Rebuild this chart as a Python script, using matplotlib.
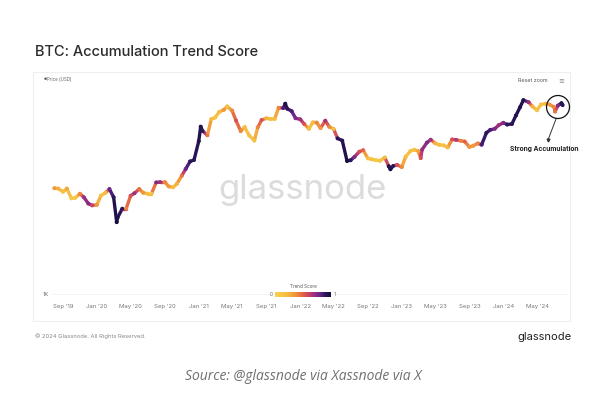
import numpy as np
import pandas as pd
import matplotlib
matplotlib.use("Agg")
import matplotlib.pyplot as plt
import matplotlib.dates as mdates
from matplotlib.collections import LineCollection
from matplotlib.colors import LinearSegmentedColormap
from matplotlib.patches import Ellipse, Rectangle

plt.rcParams['font.family'] = ['Inter', 'DejaVu Sans']

# BTC price (USD) and accumulation trend score
dates = [
    '2019-08-01', '2019-08-15', '2019-09-01', '2019-09-15', '2019-10-01', '2019-10-15',
    '2019-11-01', '2019-11-15', '2019-12-01', '2019-12-15', '2020-01-01', '2020-01-15',
    '2020-02-01', '2020-02-15', '2020-03-01', '2020-03-12', '2020-03-15', '2020-04-01',
    '2020-04-15', '2020-05-01', '2020-05-15', '2020-06-01', '2020-06-15', '2020-07-01',
    '2020-07-15', '2020-08-01', '2020-08-15', '2020-09-01', '2020-09-15', '2020-10-01',
    '2020-10-15', '2020-11-01', '2020-11-15', '2020-12-01', '2020-12-15', '2021-01-01',
    '2021-01-08', '2021-01-15', '2021-02-01', '2021-02-15', '2021-03-01', '2021-03-15',
    '2021-04-01', '2021-04-13', '2021-05-01', '2021-05-15', '2021-06-01', '2021-06-15',
    '2021-07-01', '2021-07-20', '2021-08-01', '2021-08-15', '2021-09-01', '2021-09-15',
    '2021-10-01', '2021-10-15', '2021-11-01', '2021-11-08', '2021-11-15', '2021-12-01',
    '2021-12-15', '2022-01-01', '2022-01-15', '2022-02-01', '2022-02-15', '2022-03-01',
    '2022-03-15', '2022-04-01', '2022-04-15', '2022-05-01', '2022-05-15', '2022-06-01',
    '2022-06-18', '2022-07-01', '2022-07-15', '2022-08-01', '2022-08-15', '2022-09-01',
    '2022-09-15', '2022-10-01', '2022-10-15', '2022-11-01', '2022-11-15', '2022-11-21',
    '2022-12-01', '2022-12-15', '2023-01-01', '2023-01-15', '2023-02-01', '2023-02-15',
    '2023-03-01', '2023-03-10', '2023-03-15', '2023-04-01', '2023-04-15', '2023-05-01',
    '2023-05-15', '2023-06-01', '2023-06-15', '2023-07-01', '2023-07-15', '2023-08-01',
    '2023-08-15', '2023-09-01', '2023-09-15', '2023-10-01', '2023-10-15', '2023-11-01',
    '2023-11-15', '2023-12-01', '2023-12-15', '2024-01-01', '2024-01-15', '2024-02-01',
    '2024-02-15', '2024-03-01', '2024-03-13', '2024-04-01', '2024-04-15', '2024-05-01',
    '2024-05-15', '2024-06-01', '2024-06-15', '2024-07-01', '2024-07-05', '2024-07-15',
    '2024-07-28', '2024-08-01',
]
price = [
    10400, 10300, 9600, 10300, 8300, 8400,
    9200, 8500, 7400, 7100, 7200, 8800,
    9400, 10200, 8500, 4900, 5400, 6600,
    6600, 8800, 9300, 10200, 9400, 9200,
    9200, 11800, 11900, 11900, 10800, 10600,
    11500, 13700, 15900, 18800, 19400, 29400,
    40600, 36800, 33500, 47900, 49600, 56000,
    58900, 63500, 57800, 46400, 36700, 40200,
    33500, 29800, 39900, 47000, 48800, 48100,
    48200, 61500, 61300, 67500, 60400, 57200,
    48900, 47700, 43100, 38700, 44600, 44400,
    39300, 46300, 40500, 38500, 31300, 29800,
    19000, 19300, 20800, 23300, 24100, 20100,
    19700, 19300, 19100, 20500, 16900, 15800,
    17000, 17400, 16600, 20900, 23700, 24300,
    23600, 20200, 24400, 28500, 30400, 28100,
    27200, 26800, 25600, 30600, 30300, 29700,
    29200, 25900, 26600, 28000, 27200, 35400,
    37800, 38700, 41900, 44200, 42500, 43100,
    51800, 62400, 73000, 69700, 63400, 58300,
    66200, 67500, 66200, 62700, 56700, 64700,
    68200, 65400,
]
score = [
    0.35, 0.25, 0.15, 0.30, 0.10, 0.10,
    0.40, 0.70, 0.75, 0.60, 0.35, 0.15,
    0.20, 0.80, 0.90, 1.00, 0.95, 0.90,
    0.40, 0.55, 0.70, 0.45, 0.35, 0.20,
    0.15, 0.75, 0.70, 0.40, 0.35, 0.20,
    0.25, 0.45, 0.80, 0.90, 0.90, 0.95,
    0.95, 0.90, 0.45, 0.20, 0.15, 0.20,
    0.35, 0.20, 0.40, 0.55, 0.40, 0.20,
    0.15, 0.15, 0.40, 0.55, 0.25, 0.20,
    0.20, 0.40, 0.85, 0.95, 0.90, 0.85,
    0.75, 0.70, 0.55, 0.20, 0.20, 0.40,
    0.35, 0.70, 0.40, 0.20, 0.90, 0.90,
    1.00, 0.90, 0.75, 0.55, 0.50, 0.15,
    0.15, 0.10, 0.15, 0.20, 0.95, 0.95,
    0.90, 0.55, 0.40, 0.20, 0.15, 0.15,
    0.30, 0.55, 0.70, 0.75, 0.70, 0.25,
    0.20, 0.15, 0.20, 0.55, 0.65, 0.40,
    0.50, 0.35, 0.35, 0.40, 0.85, 0.90,
    0.85, 0.75, 0.70, 0.75, 0.90, 0.90,
    0.95, 0.95, 0.95, 0.70, 0.25, 0.15,
    0.15, 0.20, 0.35, 0.40, 0.45, 0.75,
    0.95, 0.90,
]
tick_dates = ['2019-09-01', '2020-01-01', '2020-05-01', '2020-09-01', '2021-01-01',
              '2021-05-01', '2021-09-01', '2022-01-01', '2022-05-01', '2022-09-01',
              '2023-01-01', '2023-05-01', '2023-09-01', '2024-01-01', '2024-05-01']
tick_labels = ["Sep '19", "Jan '20", "May '20", "Sep '20", "Jan '21", "May '21",
               "Sep '21", "Jan '22", "May '22", "Sep '22", "Jan '23", "May '23",
               "Sep '23", "Jan '24", "May '24"]

W, H = 596, 398


def fx(px):
    return px / W


def fy(py):
    return 1 - py / H


cmap = LinearSegmentedColormap.from_list('trend', [
    (0.00, '#f9d24c'), (0.22, '#f6bb3f'), (0.38, '#f08f3a'), (0.52, '#e05a4b'),
    (0.66, '#b13578'), (0.80, '#6a268c'), (0.90, '#2c165c'), (1.00, '#170e3c')])

fig = plt.figure(figsize=(W / 100, H / 100), dpi=100)
fig.patch.set_facecolor('white')

# panel frame
fig.patches.append(Rectangle((fx(33), fy(321)), fx(570) - fx(33), fy(72) - fy(321),
                             transform=fig.transFigure, facecolor='white',
                             edgecolor='#efefef', linewidth=0.8, zorder=-1))

fig.text(fx(35), fy(52), 'BTC: Accumulation Trend Score', fontsize=10.5,
         color='#2b2b2b', fontweight='medium', va='center', ha='left')

# watermark
fig.text(fx(302), fy(190), 'glassnode', fontsize=25, color='#dcdcdc',
         ha='center', va='center', zorder=1)

ax = fig.add_axes([fx(52), fy(296), fx(568) - fx(52), fy(85) - fy(296)])
ax.patch.set_alpha(0)
ax.set_zorder(2)

d = pd.to_datetime(dates)
x = mdates.date2num(d)
y = np.array(price, dtype=float)
s = np.array(score)

ax.set_yscale('log')
ax.set_ylim(956, 102000)

t0 = mdates.date2num(pd.Timestamp('2019-09-01'))
t1 = mdates.date2num(pd.Timestamp('2024-05-01'))
px_per_day = (537 - 63) / (t1 - t0)
ax.set_xlim(t0 - (63 - 52) / px_per_day, t0 + (568 - 63) / px_per_day)

pts = np.column_stack([x, y])
segs = np.stack([pts[:-1], pts[1:]], axis=1)
lc = LineCollection(segs, cmap=cmap, linewidths=2.4, capstyle='round')
lc.set_array((s[:-1] + s[1:]) / 2)
lc.set_clim(0, 1)
ax.add_collection(lc)
ax.scatter(x, y, c=s, cmap=cmap, vmin=0, vmax=1, s=8, linewidths=0, zorder=3)

ax.set_xticks(mdates.date2num(pd.to_datetime(tick_dates)))
ax.set_xticklabels(tick_labels)
ax.set_yticks([1000])
ax.set_yticklabels(['1K'])
ax.yaxis.set_minor_locator(plt.NullLocator())
ax.tick_params(axis='both', length=0, labelsize=4.3, colors='#777777')
ax.tick_params(axis='x', pad=6)
ax.tick_params(axis='y', pad=2)
for sp in ax.spines.values():
    sp.set_visible(False)
ax.axhline(1000, color='#f1f1f1', linewidth=0.6, zorder=0)

# legend / controls
fig.text(fx(44), fy(79), '\u25cf', fontsize=2.5, color='#555555', va='center', ha='left')
fig.text(fx(47), fy(79), 'Price (USD)', fontsize=3.2, color='#666666', va='center', ha='left')
fig.text(fx(533), fy(81), 'Reset zoom', fontsize=3.8, color='#555555', va='center', ha='center')
fig.text(fx(561), fy(81), '\u2261', fontsize=5, color='#888888', va='center', ha='center')

# colour scale
cax = fig.add_axes([fx(275), fy(297), fx(331) - fx(275), fy(292) - fy(297)])
cax.imshow(np.linspace(0, 1, 200)[None, :], aspect='auto', cmap=cmap, extent=[0, 1, 0, 1])
cax.set_axis_off()
cax.set_zorder(3)
fig.text(fx(303), fy(287), 'Trend Score', fontsize=3.3, color='#555555', ha='center', va='center')
fig.text(fx(271), fy(294.5), '0', fontsize=3.5, color='#666666', ha='center', va='center')
fig.text(fx(335), fy(294.5), '1', fontsize=3.5, color='#666666', ha='center', va='center')

# annotation
fig.patches.append(Ellipse((fx(558), fy(107)), 23 / W, 23 / H, transform=fig.transFigure,
                           fill=False, edgecolor='#111111', linewidth=0.9, zorder=5))
fig.add_artist(plt.Line2D([fx(556), fx(548)], [fy(119), fy(140)], transform=fig.transFigure,
                          color='#333333', linewidth=0.7))
fig.add_artist(plt.Line2D([fx(548)], [fy(140)], transform=fig.transFigure, marker='v',
                          markersize=2, color='#333333'))
fig.text(fx(544), fy(149), 'Strong Accumulation', fontsize=4.8, fontweight='bold',
         color='#222222', ha='center', va='center')

# footer
fig.text(fx(35), fy(336), '\u00a9 2024 Glassnode. All Rights Reserved.', fontsize=4.2,
         color='#888888', ha='left', va='center')
fig.text(fx(571), fy(337), 'glassnode', fontsize=8, color='#222222', ha='right', va='center')
fig.text(fx(303), fy(376), 'Source: @glassnode via Xassnode via X', fontsize=10,
         color='#707070', style='italic', ha='center', va='center',
         family=['Open Sans', 'DejaVu Sans'])

fig.savefig('out.png', dpi=100, facecolor='white')
